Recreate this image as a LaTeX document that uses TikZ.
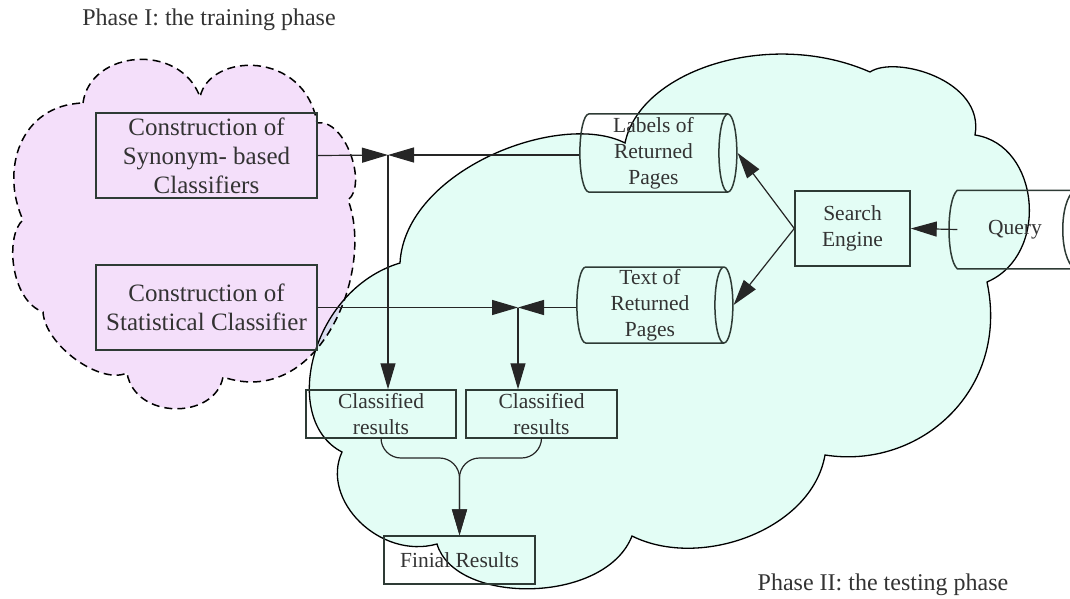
\documentclass[tikz,border=0pt]{standalone}
\usepackage{fontspec}
\setmainfont{Liberation Serif}
\usetikzlibrary{shapes.geometric,arrows.meta}
\definecolor{pinkcloud}{HTML}{F4DFFA}
\definecolor{greencloud}{HTML}{E3FDF5}
\definecolor{inkline}{HTML}{2E3B35}
\begin{document}
\begin{tikzpicture}[x=1pt, y=-1pt,
    lbl/.style={font=\fontsize{24}{29}\selectfont, text=black!80},
    procbox/.style={draw=inkline, line width=1.5pt, align=center, inner sep=0pt,
      text=black!80, font=\fontsize{21.5}{26}\selectfont},
    bigbox/.style={procbox, font=\fontsize{25}{29}\selectfont},
    store/.style={procbox, cylinder, aspect=0.25},
    arr/.style={draw=black!85, line width=1.2pt, -{Triangle[length=26pt,width=15pt]}}]
\useasboundingbox (0,0) rectangle (1070,599);

% the two phases
\draw[line width=1.5pt, dash pattern=on 8pt off 5pt, fill=pinkcloud] (83,103)
  .. controls (90,50) and (180,42) .. (200,97)
  .. controls (210,52) and (305,50) .. (317,123)
  .. controls (345,118) and (368,185) .. (348,200)
  .. controls (375,270) and (320,410) .. (223,377)
  .. controls (215,420) and (135,420) .. (127,373)
  .. controls (100,385) and (45,345) .. (43,312)
  .. controls (10,300) and (5,235) .. (23,220)
  .. controls (0,170) and (20,105) .. cycle;
\begin{scope}[blend mode=multiply]
\draw[line width=1.3pt, fill=greencloud] (400,263)
  .. controls (405,170) and (560,110) .. (625,143)
  .. controls (640,70) and (770,28) .. (870,72)
  .. controls (895,55) and (985,80) .. (975,135)
  .. controls (1040,145) and (1050,255) .. (987,282)
  .. controls (1010,390) and (920,470) .. (825,455)
  .. controls (812,530) and (700,570) .. (632,536)
  .. controls (605,605) and (455,605) .. (437,544)
  .. controls (380,560) and (320,500) .. (342,452)
  .. controls (280,420) and (310,290) .. cycle;
\end{scope}

\node[lbl] (phase1) at (209,20) {Phase I: the training phase};
\node[lbl] (phase2) at (883,585) {Phase II: the testing phase};

\node[bigbox, minimum width=221, minimum height=85] (syn) at (206.5,155.5)
  {Construction of\\Synonym- based\\Classifiers};
\node[bigbox, minimum width=221, minimum height=85] (stat) at (206.5,307.5)
  {Construction of\\Statistical Classifier};
\node[store, minimum width=78, minimum height=157] (lab) at (653.5,153)
  {Labels of\\Returned\\Pages};
\node[store, minimum width=76, minimum height=156] (txt) at (650,305)
  {Text of\\Returned\\Pages};
\node[procbox, minimum width=115, minimum height=75] (engine) at (852.5,228.5)
  {Search\\Engine};
\node[procbox, draw=none, minimum width=114, minimum height=77] (query) at (1015,229.5)
  {Query};
\draw[draw=inkline, line width=1.5pt] ([xshift=2]query.north east) -- (query.north west)
  .. controls +(-11,10) and +(-11,-10) .. (query.south west)
  -- ([xshift=2]query.south east)
  .. controls +(-16,-10) and +(-16,10) .. ([xshift=2]query.north east);
\node[procbox, minimum width=150, minimum height=48] (c1) at (381,414) {Classified\\results};
\node[procbox, minimum width=151, minimum height=48] (c2) at (541.5,414) {Classified\\results};
\node[procbox, minimum width=151, minimum height=48] (fin) at (459.5,560) {Finial Results};

\coordinate (jtop) at (388,155);
\coordinate (jbot) at (518,307.5);
\coordinate (fork) at (459.5,458);

\draw[arr] (query.west) -- (engine.east);
\draw[arr] (engine.west) -- (lab.east);
\draw[arr] (engine.west) -- (txt.east);
\draw[arr] (syn.east) -- (jtop);
\draw[arr] (jtop -| lab.west) -- (jtop);
\draw[arr] (jtop) -- (jtop |- c1.north);
\draw[arr] (stat.east) -- (jbot);
\draw[arr] (jbot -| txt.west) -- (jbot);
\draw[arr] (jbot) -- (jbot |- c2.north);
\draw[arr, rounded corners=20pt] (c1.south) |- (fork) -- (fin.north);
\draw[arr, rounded corners=20pt] (c2.south) |- (fork) -- (fin.north);
\end{tikzpicture}
\end{document}
